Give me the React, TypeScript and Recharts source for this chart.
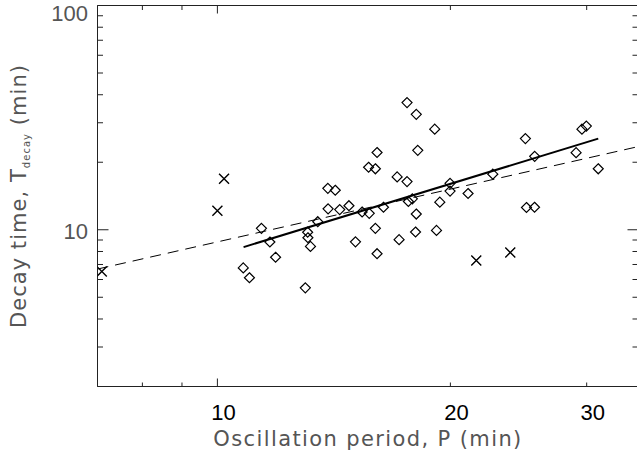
import React from 'react';
import { ComposedChart, Scatter, XAxis, YAxis, ReferenceLine } from 'recharts';

// ---- data ----
const diamondPeriods = [17.58, 18.07, 16.08, 18.15, 15.68, 16.0, 17.07, 17.58, 13.89, 14.2,
  13.9, 14.39, 14.79, 15.38, 15.71, 16.39, 17.65, 17.86, 18.07, 13.48,
  16.0, 18.03, 11.4, 11.69, 13.08, 13.09, 13.19, 15.08, 17.17, 16.08,
  11.89, 10.8, 11.0, 12.99, 19.09, 25.0, 29.58, 29.97, 25.7, 29.07,
  31.05, 22.69, 19.98, 19.98, 21.08, 19.38, 19.19, 25.08, 25.69];
const diamondDecays = [36.9, 32.7, 22.1, 22.6, 19.0, 18.7, 17.2, 16.4, 15.3, 15.0,
  12.4, 12.3, 12.8, 12.0, 11.84, 12.6, 13.37, 13.74, 11.75, 10.86,
  10.15, 9.77, 10.15, 8.82, 9.75, 9.21, 8.43, 8.83, 9.03, 7.82,
  7.54, 6.76, 6.11, 5.51, 28.1, 25.5, 28.1, 29.0, 21.25, 22.07,
  18.7, 17.7, 16.1, 14.87, 14.51, 13.28, 9.93, 12.57, 12.6];
const crossPeriods = [7.09, 10.0, 10.2, 21.6, 23.9];
const crossDecays = [6.52, 12.15, 16.9, 7.29, 7.92];
const solidFitPeriods = [10.81, 31.05];
const solidFitDecays = [8.37, 25.5];
const dashedFitPeriods = [7, 35];
const dashedFitDecays = [6.68, 23.5];

const xDomain = [7, 35];
const yDomain = [2, 100];
const xTicks = [7, 8, 9, 10, 20, 30];
const xLabelTicks = [10, 20, 30];
const xMajorTicks = [10];
const yTicks = [2, 3, 4, 5, 6, 7, 8, 9, 10, 20, 30, 40, 50, 60, 70, 80, 90, 100];
const yLabelTicks = [10, 100];
const yMajorTicks = [10, 100];

const xTitle = 'Oscillation period, P (min)';
const yTitleMain = 'Decay time, T';
const yTitleSub = 'decay';
const yTitleEnd = ' (min)';

// ---- layout ----
const W = 640;
const H = 459;
const PLOT_TOP = 5.5;
const PLOT_RIGHT = 638.5;
const LEFT_W = 97.5;
const BOTTOM_H = 72.5;
const FONT = '"Liberation Sans", Arial, Helvetica, sans-serif';
const TITLE_FONT = '"DejaVu Sans", "Liberation Sans", sans-serif';
const AX = '#222';

const diamonds = diamondPeriods.map((x, i) => ({ x, y: diamondDecays[i] }));
const crosses = crossPeriods.map((x, i) => ({ x, y: crossDecays[i] }));
const solidFit = solidFitPeriods.map((x, i) => ({ x, y: solidFitDecays[i] }));
const dashedFit = dashedFitPeriods.map((x, i) => ({ x, y: dashedFitDecays[i] }));

const Diamond = (p: any) => {
  const { cx, cy } = p;
  if (cx == null || cy == null) return <g />;
  const r = 5;
  return (
    <path d={`M${cx},${cy - r}L${cx + r},${cy}L${cx},${cy + r}L${cx - r},${cy}Z`}
      fill="none" stroke="#000" strokeWidth={1.2} />
  );
};

const Cross = (p: any) => {
  const { cx, cy } = p;
  if (cx == null || cy == null) return <g />;
  const r = 5;
  return (
    <path d={`M${cx - r},${cy - r}L${cx + r},${cy + r}M${cx - r},${cy + r}L${cx + r},${cy - r}`}
      fill="none" stroke="#000" strokeWidth={1.4} />
  );
};

const NoShape = () => <g />;

const XTick = (p: any) => {
  const { x, y, payload } = p;
  const v = payload.value;
  const major = xMajorTicks.includes(v);
  const lb = major ? 8 : 4;
  const lt = major ? 8 : 4.5;
  return (
    <g>
      <line x1={x} x2={x} y1={y} y2={y - lb} stroke={AX} strokeWidth={1} />
      <line x1={x} x2={x} y1={PLOT_TOP} y2={PLOT_TOP + lt} stroke={AX} strokeWidth={1} />
      {xLabelTicks.includes(v) && (
        <text x={x + 6} y={y + 33.5} textAnchor="middle" fontSize={22} fontFamily={FONT} fill="#000">
          {v}
        </text>
      )}
    </g>
  );
};

const YTick = (p: any) => {
  const { x, y, payload } = p;
  const v = payload.value;
  const major = yMajorTicks.includes(v);
  const ll = major ? 11 : 5.5;
  const lr = major ? 11 : 6;
  return (
    <g>
      <line x1={x} x2={x + ll} y1={y} y2={y} stroke={AX} strokeWidth={1} />
      <line x1={PLOT_RIGHT} x2={PLOT_RIGHT - lr} y1={y} y2={y} stroke={AX} strokeWidth={1} />
      {yLabelTicks.includes(v) && (
        <text x={x - 9.5} y={Math.max(y + 9, 20.7)} textAnchor="end" fontSize={22} fontFamily={FONT} fill="#555">
          {v}
        </text>
      )}
    </g>
  );
};

export default function App() {
  return (
    <div style={{ position: 'absolute', left: 0, top: 0, width: 637, height: 459, overflow: 'hidden', background: '#fff' }}>
      <ComposedChart width={W} height={H} margin={{ top: PLOT_TOP, right: W - PLOT_RIGHT, bottom: 0, left: 0 }}>
        <XAxis xAxisId="b" type="number" dataKey="x" scale="log" domain={xDomain} allowDataOverflow
          ticks={xTicks} interval={0} height={BOTTOM_H} tickSize={0} tickMargin={0} tickLine={false}
          axisLine={{ stroke: AX, strokeWidth: 1 }} tick={<XTick />} />
        <YAxis yAxisId="l" type="number" dataKey="y" scale="log" domain={yDomain} allowDataOverflow
          ticks={yTicks} interval={0} width={LEFT_W} tickSize={0} tickMargin={0} tickLine={false}
          axisLine={{ stroke: AX, strokeWidth: 1 }} tick={<YTick />} />
        <ReferenceLine xAxisId="b" yAxisId="l" y={100} stroke={AX} strokeWidth={1} />
        <Scatter xAxisId="b" yAxisId="l" data={dashedFit} shape={<NoShape />} isAnimationActive={false}
          line={{ stroke: '#000', strokeWidth: 1, strokeDasharray: '11 7' }} />
        <Scatter xAxisId="b" yAxisId="l" data={solidFit} shape={<NoShape />} isAnimationActive={false}
          line={{ stroke: '#000', strokeWidth: 2 }} />
        <Scatter xAxisId="b" yAxisId="l" data={diamonds} shape={<Diamond />} isAnimationActive={false} />
        <Scatter xAxisId="b" yAxisId="l" data={crosses} shape={<Cross />} isAnimationActive={false} />
      </ComposedChart>
      <svg width={637} height={459} style={{ position: 'absolute', left: 0, top: 0, pointerEvents: 'none' }}>
        <text x={213.3} y={446} fontSize={21} fontFamily={TITLE_FONT} fill="#555" textLength={308} lengthAdjust="spacing">
          {xTitle}
        </text>
        <text transform="translate(26,328) rotate(-90)" fontSize={21} fontFamily={TITLE_FONT} fill="#555"
          textLength={263} lengthAdjust="spacing">
          {yTitleMain}
          <tspan fontSize={10} dy={4}>{yTitleSub}</tspan>
          <tspan dy={-4}>{yTitleEnd}</tspan>
        </text>
      </svg>
    </div>
  );
}
